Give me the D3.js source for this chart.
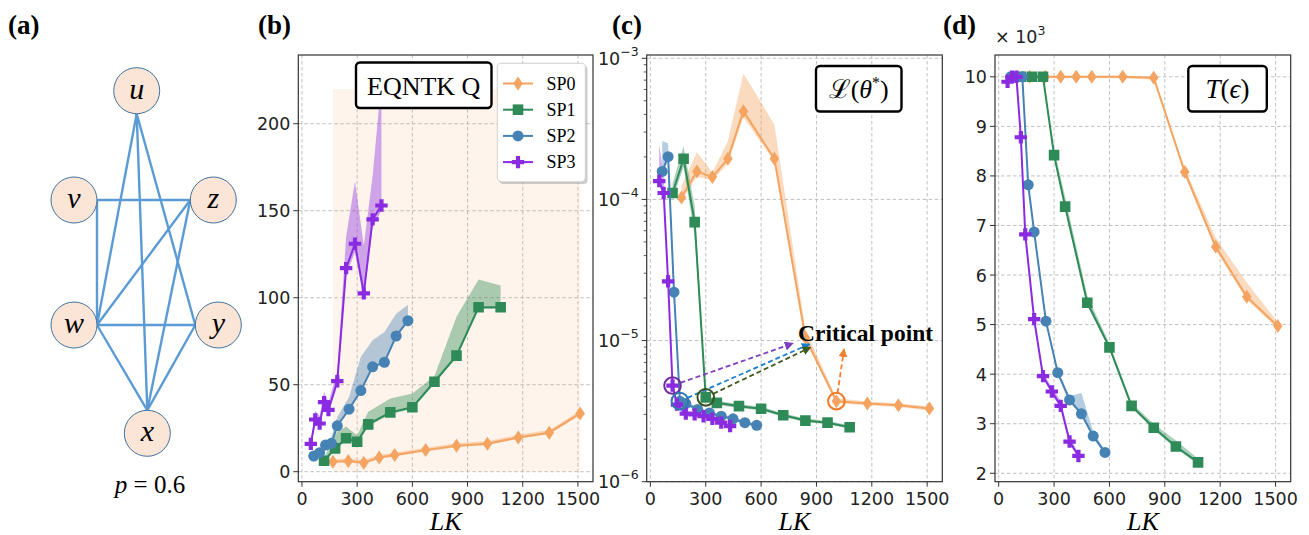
<!DOCTYPE html>
<html>
<head>
<meta charset="utf-8">
<script src="https://cdn.jsdelivr.net/npm/d3@7"></script>
<style>
  body { margin: 0; background: #fff; }
  .serif { font-family: "Liberation Serif", "Times New Roman", serif; }
  .sans { font-family: "DejaVu Sans", sans-serif; }
</style>
</head>
<body>
<svg id="fig" width="1309" height="535"></svg>
<script>
// ---- data ----
const seriesNames = ['SP0', 'SP1', 'SP2', 'SP3'];

// LK positions of each series
const lkSP0 = [168, 252, 336, 420, 504, 672, 840, 1008, 1176, 1344, 1512];
const lkSP1 = [120, 180, 240, 300, 360, 480, 600, 720, 840, 960, 1080];
const lkSP2 = [64, 96, 128, 160, 192, 256, 320, 384, 448, 512, 576];
const lkSP3 = [48, 72, 96, 120, 144, 192, 240, 288, 336, 384, 432];

// (b) EQNTK Q : mean, lower, upper
const qSP0   = [5.7, 6.1, 5.2, 8.2, 9.6, 12.4, 14.9, 16.1, 19.7, 22.4, 33.5];
const qSP0lo = [4.8, 5.2, 4.4, 7.4, 8.8, 11.6, 14.1, 15.3, 18.9, 21.6, 32.5];
const qSP0hi = [7.2, 7.6, 6.8, 9.6, 11.0, 13.8, 16.3, 17.6, 21.2, 24.0, 35.0];
const qSP1   = [6.3, 13.4, 19.2, 17.2, 27.2, 34.1, 37.0, 51.7, 66.7, 94.5, 94.5];
const qSP1lo = [5.3, 12.2, 18.0, 16.0, 26.0, 33.0, 36.0, 50.5, 65.5, 93.5, 93.5];
const qSP1hi = [8.0, 22.0, 26.0, 21.0, 34.5, 42.0, 45.0, 55.0, 89.0, 110.5, 107.0];
const qSP2   = [9.0, 10.9, 15.3, 16.3, 26.4, 35.9, 46.6, 60.3, 62.9, 78.0, 86.8];
const qSP2lo = [8.2, 10.1, 14.5, 15.5, 25.6, 35.0, 45.8, 59.5, 62.0, 77.0, 86.0];
const qSP2hi = [10.0, 12.0, 17.0, 20.0, 31.5, 43.0, 66.0, 75.5, 80.3, 90.8, 96.0];
const qSP3   = [16.0, 30.0, 27.7, 40.0, 35.5, 52.0, 117.0, 131.0, 102.5, 145.0, 153.0];
const qSP3lo = [15.0, 28.0, 26.0, 38.0, 34.0, 50.0, 113.0, 126.0, 100.0, 141.0, 150.0];
const qSP3hi = [18.0, 35.0, 32.0, 46.0, 40.0, 58.0, 135.0, 167.0, 130.0, 170.0, 225.0];
const qShade = [168, 1512, 0, 220]; // LK from, LK to, Q from, Q to

// (c) loss L(theta*)
const lSP0   = [1.03e-4, 1.58e-4, 1.44e-4, 1.94e-4, 4.22e-4, 1.94e-4, 1.05e-5, 3.72e-6, 3.58e-6, 3.48e-6, 3.30e-6];
const lSP0lo = [0.98e-4, 1.45e-4, 1.36e-4, 1.80e-4, 3.80e-4, 1.85e-4, 1.00e-5, 3.60e-6, 3.48e-6, 3.38e-6, 3.20e-6];
const lSP0hi = [1.24e-4, 2.16e-4, 1.55e-4, 2.59e-4, 7.80e-4, 3.40e-4, 1.20e-5, 3.90e-6, 3.70e-6, 3.60e-6, 3.42e-6];
const lSP1   = [1.11e-4, 1.94e-4, 6.9e-5, 3.96e-6, 3.62e-6, 3.43e-6, 3.29e-6, 2.96e-6, 2.71e-6, 2.62e-6, 2.43e-6];
const lSP1lo = [1.00e-4, 1.70e-4, 5.5e-5, 3.80e-6, 3.50e-6, 3.33e-6, 3.20e-6, 2.88e-6, 2.64e-6, 2.55e-6, 2.37e-6];
const lSP1hi = [1.30e-4, 2.38e-4, 9.0e-5, 4.15e-6, 3.75e-6, 3.55e-6, 3.40e-6, 3.05e-6, 2.80e-6, 2.70e-6, 2.50e-6];
const lSP2   = [1.58e-4, 2.01e-4, 2.2e-5, 3.72e-6, 3.58e-6, 3.25e-6, 3.07e-6, 2.91e-6, 2.79e-6, 2.62e-6, 2.51e-6];
const lSP2lo = [1.50e-4, 1.90e-4, 2.0e-5, 3.60e-6, 3.48e-6, 3.16e-6, 2.99e-6, 2.84e-6, 2.72e-6, 2.55e-6, 2.45e-6];
const lSP2hi = [2.59e-4, 2.50e-4, 2.5e-5, 3.85e-6, 3.70e-6, 3.35e-6, 3.16e-6, 3.00e-6, 2.87e-6, 2.70e-6, 2.58e-6];
const lSP3   = [1.35e-4, 1.11e-4, 2.63e-5, 4.80e-6, 3.52e-6, 3.04e-6, 3.00e-6, 2.91e-6, 2.79e-6, 2.62e-6, 2.48e-6];
const lSP3lo = [1.25e-4, 1.05e-4, 2.45e-5, 4.60e-6, 3.42e-6, 2.96e-6, 2.92e-6, 2.84e-6, 2.72e-6, 2.55e-6, 2.42e-6];
const lSP3hi = [2.45e-4, 1.50e-4, 2.85e-5, 5.00e-6, 3.62e-6, 3.12e-6, 3.08e-6, 2.98e-6, 2.86e-6, 2.69e-6, 2.54e-6];

// (d) T(eps), in units of 10^3
const tSP0   = [10, 10, 10, 10, 10, 10, 9.98, 8.08, 6.57, 5.56, 4.97];
const tSP0lo = [9.97, 9.97, 9.97, 9.97, 9.97, 9.97, 9.94, 8.02, 6.50, 5.50, 4.92];
const tSP0hi = [10.02, 10.02, 10.02, 10.02, 10.02, 10.02, 10.0, 8.15, 6.75, 5.85, 5.05];
const tSP1   = [10, 10, 10, 8.42, 7.38, 5.44, 4.54, 3.36, 2.92, 2.54, 2.22];
const tSP1lo = [9.97, 9.97, 9.97, 8.38, 7.34, 5.40, 4.50, 3.32, 2.88, 2.50, 2.18];
const tSP1hi = [10.02, 10.02, 10.02, 8.55, 7.58, 5.58, 4.62, 3.42, 3.00, 2.66, 2.30];
const tSP2   = [10, 10, 10, 7.82, 6.87, 5.07, 4.03, 3.48, 3.20, 2.75, 2.42];
const tSP2lo = [9.97, 9.97, 9.97, 7.78, 6.83, 5.03, 3.99, 3.44, 3.16, 2.71, 2.38];
const tSP2hi = [10.02, 10.02, 10.02, 7.86, 6.91, 5.11, 4.07, 3.56, 3.62, 2.85, 2.46];
const tSP3   = [9.9, 10, 10, 8.78, 6.82, 5.11, 3.96, 3.65, 3.36, 2.64, 2.35];
const tSP3lo = [9.86, 9.97, 9.97, 8.74, 6.78, 5.07, 3.92, 3.61, 3.32, 2.60, 2.31];
const tSP3hi = [9.94, 10.02, 10.02, 8.82, 6.86, 5.15, 4.02, 3.74, 3.46, 2.74, 2.40];

// (a) graph
const nodeNames = ['u', 'v', 'z', 'w', 'y', 'x'];
const edgeList = [['v','z'], ['v','w'], ['u','w'], ['u','x'], ['u','y'],
                  ['z','w'], ['z','x'], ['w','y'], ['w','x'], ['y','x']];

// ---- styling ----
const colors = ['#f4a460', '#2e8b57', '#4682b4', '#8a2be2'];
const markers = ['diamond', 'square', 'circle', 'plus'];
const lkAll = [lkSP0, lkSP1, lkSP2, lkSP3];
const tickFont = 17.5;

const svg = d3.select('#fig');
const plotTop = 55, plotBottom = 481.7;

function markerPath(type) {
  if (type === 'diamond') return 'M0,-7L4.8,0L0,7L-4.8,0Z';
  if (type === 'square') return 'M-5.3,-5.3H5.3V5.3H-5.3Z';
  if (type === 'circle') return d3.symbol().type(d3.symbolCircle).size(95)();
  const a = 2.1, b = 6.2;
  return `M${-a},${-b}H${a}V${-a}H${b}V${a}H${a}V${b}H${-a}V${a}H${-b}V${-a}H${-a}Z`;
}

const panels = [
  { id: 'b', left: 298.3, right: 593, yType: 'linear', yDomain: [-5.75, 239.5],
    yTicks: [0, 50, 100, 150, 200],
    mean: [qSP0, qSP1, qSP2, qSP3], lo: [qSP0lo, qSP1lo, qSP2lo, qSP3lo], hi: [qSP0hi, qSP1hi, qSP2hi, qSP3hi] },
  { id: 'c', left: 646.7, right: 942.3, yType: 'log', yDomain: [1e-6, 1.055e-3],
    yTicks: [1e-6, 1e-5, 1e-4, 1e-3],
    mean: [lSP0, lSP1, lSP2, lSP3], lo: [lSP0lo, lSP1lo, lSP2lo, lSP3lo], hi: [lSP0hi, lSP1hi, lSP2hi, lSP3hi] },
  { id: 'd', left: 995, right: 1290.7, yType: 'linear', yDomain: [1.83, 10.44],
    yTicks: [2, 3, 4, 5, 6, 7, 8, 9, 10],
    mean: [tSP0, tSP1, tSP2, tSP3], lo: [tSP0lo, tSP1lo, tSP2lo, tSP3lo], hi: [tSP0hi, tSP1hi, tSP2hi, tSP3hi] }
];
const xTicks = [0, 300, 600, 900, 1200, 1500];

const defs = svg.append('defs');

panels.forEach(p => {
  p.x = d3.scaleLinear().domain([-20, 1582]).range([p.left, p.right]);
  p.y = (p.yType === 'log' ? d3.scaleLog() : d3.scaleLinear()).domain(p.yDomain).range([plotBottom, plotTop]);

  defs.append('clipPath').attr('id', 'clip-' + p.id)
    .append('rect').attr('x', p.left).attr('y', plotTop)
    .attr('width', p.right - p.left).attr('height', plotBottom - plotTop);

  const g = svg.append('g');

  // grid
  const grid = g.append('g').attr('stroke', '#b0b0b0').attr('stroke-width', 0.8).attr('stroke-dasharray', '3.5,2.5');
  xTicks.forEach(t => grid.append('line').attr('x1', p.x(t)).attr('x2', p.x(t)).attr('y1', plotTop).attr('y2', plotBottom));
  p.yTicks.forEach(t => grid.append('line').attr('x1', p.left).attr('x2', p.right).attr('y1', p.y(t)).attr('y2', p.y(t)));

  const plot = g.append('g').attr('clip-path', `url(#clip-${p.id})`);

  if (p.id === 'b') {
    plot.append('rect')
      .attr('x', p.x(qShade[0])).attr('width', p.x(qShade[1]) - p.x(qShade[0]))
      .attr('y', p.y(qShade[3])).attr('height', p.y(qShade[2]) - p.y(qShade[3]))
      .attr('fill', '#f4a460').attr('opacity', 0.12);
  }

  seriesNames.forEach((name, i) => {
    const rows = lkAll[i].map((lk, j) => ({ lk, v: p.mean[i][j], lo: p.lo[i][j], hi: p.hi[i][j] }));
    plot.append('path').datum(rows)
      .attr('d', d3.area().x(d => p.x(d.lk)).y0(d => p.y(d.lo)).y1(d => p.y(d.hi)))
      .attr('fill', colors[i]).attr('opacity', 0.4);
  });
  seriesNames.forEach((name, i) => {
    const rows = lkAll[i].map((lk, j) => ({ lk, v: p.mean[i][j] }));
    plot.append('path').datum(rows)
      .attr('d', d3.line().x(d => p.x(d.lk)).y(d => p.y(d.v)))
      .attr('fill', 'none').attr('stroke', colors[i]).attr('stroke-width', 2);
    plot.append('g').selectAll('path').data(rows).join('path')
      .attr('transform', d => `translate(${p.x(d.lk)},${p.y(d.v)})`)
      .attr('d', markerPath(markers[i])).attr('fill', colors[i]);
  });

  // spines
  g.append('rect').attr('x', p.left).attr('y', plotTop)
    .attr('width', p.right - p.left).attr('height', plotBottom - plotTop)
    .attr('fill', 'none').attr('stroke', '#333').attr('stroke-width', 1.2);

  // x ticks
  const xt = g.append('g');
  xTicks.forEach(t => {
    xt.append('line').attr('x1', p.x(t)).attr('x2', p.x(t)).attr('y1', plotBottom).attr('y2', plotBottom + 5)
      .attr('stroke', '#333').attr('stroke-width', 1);
    xt.append('text').attr('class', 'sans').attr('font-size', tickFont).attr('fill', '#222')
      .attr('x', p.x(t)).attr('y', plotBottom + 23)
      .attr('text-anchor', 'middle').text(t);
  });
  g.append('text').attr('class', 'serif').attr('x', (p.left + p.right) / 2).attr('y', 530)
    .attr('text-anchor', 'middle').attr('font-size', 26).attr('font-style', 'italic').text('LK');

  // y ticks
  const yt = g.append('g');
  p.yTicks.forEach(t => {
    yt.append('line').attr('x1', p.left - 5).attr('x2', p.left).attr('y1', p.y(t)).attr('y2', p.y(t))
      .attr('stroke', '#333').attr('stroke-width', 1);
    const lab = yt.append('text').attr('class', 'sans').attr('font-size', tickFont).attr('fill', '#222')
      .attr('x', p.left - 8).attr('y', p.y(t) + 6.5)
      .attr('text-anchor', 'end');
    if (p.yType === 'log') {
      lab.append('tspan').text('10');
      lab.append('tspan').attr('dy', -9).attr('font-size', 12.5).text('\u2212' + Math.round(-Math.log10(t)));
    } else {
      lab.text(t);
    }
  });
  if (p.yType === 'log') {
    for (let e = -6; e < -3; e++) {
      for (let m = 2; m <= 9; m++) {
        const v = m * Math.pow(10, e);
        yt.append('line').attr('x1', p.left - 3).attr('x2', p.left).attr('y1', p.y(v)).attr('y2', p.y(v))
          .attr('stroke', '#333').attr('stroke-width', 0.8);
      }
    }
  }
});

// ---- boxed titles ----
function titleBox(x, y, w, h) {
  svg.append('rect').attr('x', x).attr('y', y).attr('width', w).attr('height', h)
    .attr('rx', 4).attr('fill', '#fff').attr('stroke', '#000').attr('stroke-width', 2.4);
}
titleBox(356, 62.5, 135.5, 45.5);
svg.append('text').attr('class', 'serif').attr('x', 423.7).attr('y', 95).attr('text-anchor', 'middle')
  .attr('font-size', 26).text('EQNTK Q');

titleBox(816, 66, 85.5, 45.5);
const lt = svg.append('text').attr('class', 'serif').attr('x', 858.7).attr('y', 98).attr('text-anchor', 'middle')
  .attr('font-size', 26);
lt.append('tspan').text('\u2112(');
lt.append('tspan').attr('font-style', 'italic').text('\u03b8');
lt.append('tspan').attr('dy', -10).attr('font-size', 16).text('*');
lt.append('tspan').attr('dy', 10).text(')');

titleBox(1188.3, 66, 78.5, 45.5);
const tt = svg.append('text').attr('class', 'serif').attr('x', 1227.5).attr('y', 98).attr('text-anchor', 'middle')
  .attr('font-size', 27);
tt.append('tspan').attr('font-style', 'italic').text('T');
tt.append('tspan').text('(');
tt.append('tspan').attr('font-style', 'italic').text('\u03f5');
tt.append('tspan').text(')');

// x 10^3 multiplier
const mult = svg.append('text').attr('class', 'sans').attr('x', 995).attr('y', 43).attr('font-size', tickFont).attr('fill', '#222');
mult.append('tspan').text('\u00d7 10');
mult.append('tspan').attr('dy', -8).attr('font-size', 12.5).text('3');

// ---- legend in (b) ----
const leg = svg.append('g');
leg.append('rect').attr('x', 499.5).attr('y', 65.5).attr('width', 88).attr('height', 118.5).attr('rx', 4)
  .attr('fill', '#999').attr('opacity', 0.5);
leg.append('rect').attr('x', 497.3).attr('y', 63.3).attr('width', 88).attr('height', 118.5).attr('rx', 4)
  .attr('fill', '#fff').attr('stroke', '#d0d0d0').attr('stroke-width', 1);
seriesNames.forEach((name, i) => {
  const yy = 83.5 + i * 26.2;
  leg.append('line').attr('x1', 503).attr('x2', 533).attr('y1', yy).attr('y2', yy)
    .attr('stroke', colors[i]).attr('stroke-width', 2);
  leg.append('path').attr('transform', `translate(518,${yy})`).attr('d', markerPath(markers[i])).attr('fill', colors[i]);
  leg.append('text').attr('class', 'serif').attr('x', 546.5).attr('y', yy + 6).attr('font-size', 18).text(name);
});

// ---- annotations in (c) ----
const pc = panels[1];
const annColors = ['#f07a28', '#3a5220', '#2f78b0', '#6d2d9c'];
const arrowColors = ['#f08030', '#3d5c1e', '#1a7fd0', '#7b3fc0'];
const annIdx = [7, 3, 3, 3];            // circled point index for SP0..SP3
const arrowTo = [[1049, 8.6e-6], [864, 8.9e-6], [860, 9.4e-6], [768, 9.5e-6]];
arrowColors.forEach((c, i) => {
  defs.append('marker').attr('id', 'ah' + i).attr('viewBox', '0 0 10 10').attr('refX', 8).attr('refY', 5)
    .attr('markerWidth', 5).attr('markerHeight', 5).attr('orient', 'auto')
    .append('path').attr('d', 'M0,0L10,5L0,10Z').attr('fill', c);
});
[3, 2, 1, 0].forEach(i => {
  const cx = pc.x(lkAll[i][annIdx[i]]), cy = pc.y(pc.mean[i][annIdx[i]]);
  const tx = pc.x(arrowTo[i][0]), ty = pc.y(arrowTo[i][1]);
  const len = Math.hypot(tx - cx, ty - cy);
  const r = 8.3;
  svg.append('line').attr('x1', cx + (tx - cx) / len * r).attr('y1', cy + (ty - cy) / len * r)
    .attr('x2', tx).attr('y2', ty).attr('stroke', arrowColors[i]).attr('stroke-width', 1.8)
    .attr('stroke-dasharray', '5,3').attr('marker-end', `url(#ah${i})`);
  svg.append('circle').attr('cx', cx).attr('cy', cy).attr('r', r)
    .attr('fill', 'none').attr('stroke', annColors[i]).attr('stroke-width', 2);
});
svg.append('text').attr('class', 'serif').attr('x', pc.x(800)).attr('y', pc.y(1.0e-5))
  .attr('font-size', 23.5).attr('font-weight', 'bold').text('Critical point');

// ---- panel (a) graph ----
const layout = { u: [136.7, 90.7], v: [74, 200], z: [213.3, 200], w: [74, 325], y: [218.3, 325], x: [147.3, 433.3] };
const nodeR = 23;
// edge anchor: side of node where edges attach
const anchorSide = { u: [0, 1], v: [1, 0], z: [-1, 0], w: [1, 0], y: [-1, 0], x: [0, -1] };
const anchor = n => [layout[n][0] + anchorSide[n][0] * nodeR, layout[n][1] + anchorSide[n][1] * nodeR];
const ga = svg.append('g');
ga.selectAll('line').data(edgeList).join('line')
  .attr('x1', d => anchor(d[0])[0]).attr('y1', d => anchor(d[0])[1])
  .attr('x2', d => anchor(d[1])[0]).attr('y2', d => anchor(d[1])[1])
  .attr('stroke', '#5b9bd5').attr('stroke-width', 2.4);
const nodes = ga.selectAll('g.node').data(nodeNames).join('g')
  .attr('transform', d => `translate(${layout[d][0]},${layout[d][1]})`);
nodes.append('circle').attr('r', nodeR).attr('fill', '#fbe5d6').attr('stroke', '#41719c').attr('stroke-width', 1);
nodes.append('text').attr('class', 'serif').attr('text-anchor', 'middle').attr('y', 8)
  .attr('font-size', 30).attr('font-style', 'italic').text(d => d);
const pt = ga.append('text').attr('class', 'serif').attr('x', 150).attr('y', 493).attr('text-anchor', 'middle')
  .attr('font-size', 25);
pt.append('tspan').attr('font-style', 'italic').text('p');
pt.append('tspan').text(' = 0.6');

// panel letters
[['(a)', 8], ['(b)', 258], ['(c)', 612], ['(d)', 943]].forEach(([t, x]) => {
  svg.append('text').attr('class', 'serif').attr('x', x).attr('y', 34).attr('font-size', 27)
    .attr('font-weight', 'bold').text(t);
});
</script>
</body>
</html>
